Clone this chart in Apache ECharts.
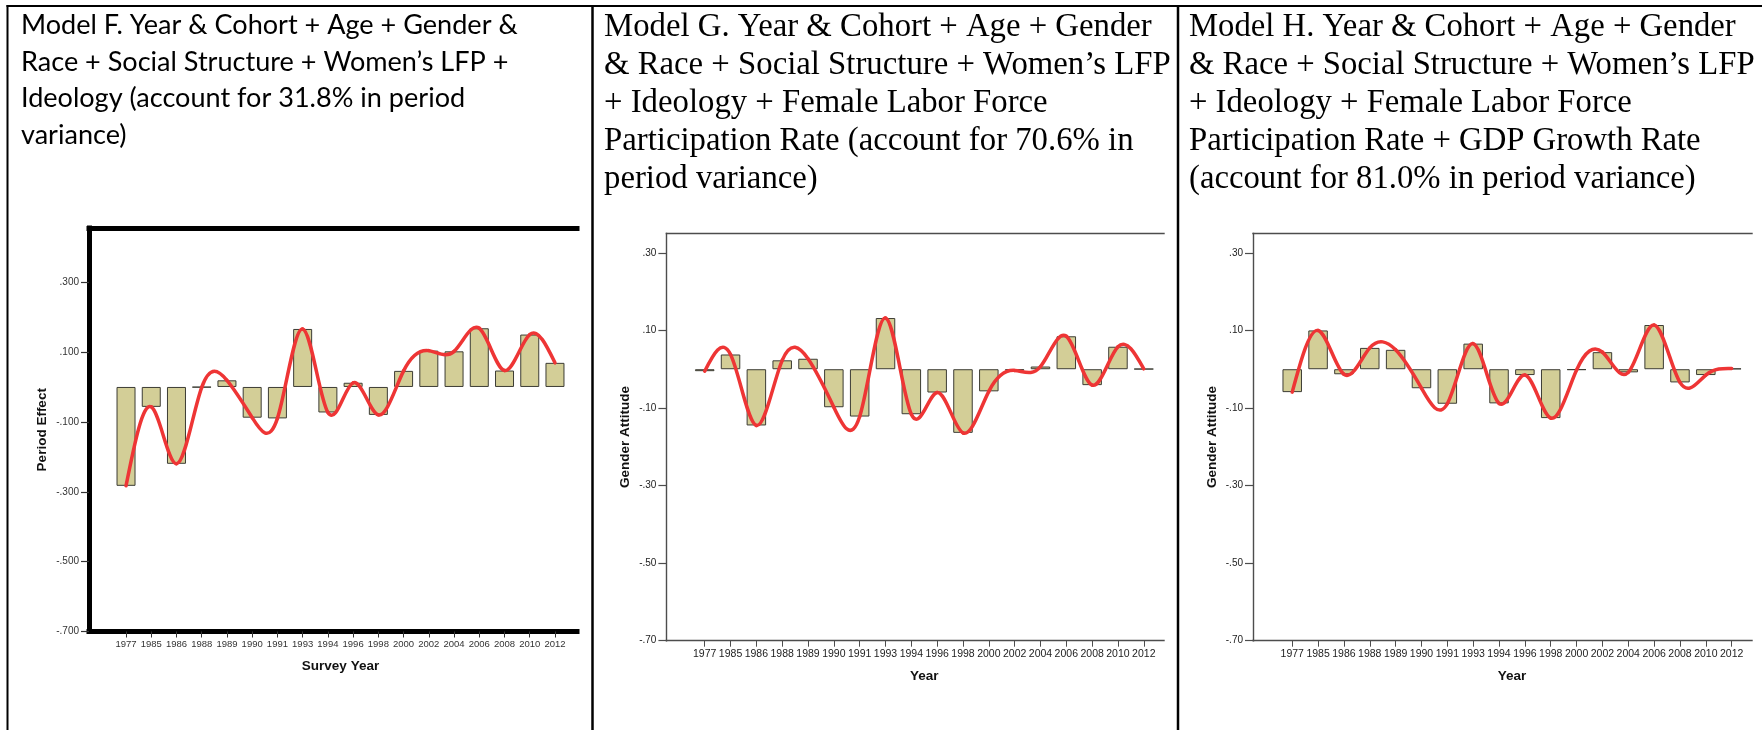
<!DOCTYPE html>
<html>
<head>
<meta charset="utf-8">
<title>Period effects, Models F–H</title>
<script src="https://cdn.jsdelivr.net/npm/echarts@6/dist/echarts.min.js"></script>
<style>
  html, body { margin: 0; padding: 0; background: #fff; }
  #chart { width: 1762px; height: 730px; }
</style>
</head>
<body>
<div id="chart"></div>
<script>
// ---- data ----
const years = ['1977', '1985', '1986', '1988', '1989', '1990', '1991', '1993', '1994',
               '1996', '1998', '2000', '2002', '2004', '2006', '2008', '2010', '2012'];

// Model F: period effect
const modelF = [-0.283, -0.057, -0.220, -0.001, 0.019, -0.088, -0.090, 0.166, -0.073,
                0.012, -0.080, 0.046, 0.104, 0.102, 0.168, 0.047, 0.150, 0.069];
// Model G: gender attitude period effect
const modelG = [-0.005, 0.038, -0.145, 0.023, 0.027, -0.098, -0.122, 0.132, -0.116,
                -0.060, -0.164, -0.057, -0.003, 0.007, 0.085, -0.041, 0.058, 0.001];
// Model H: gender attitude period effect
const modelH = [-0.059, 0.100, -0.013, 0.055, 0.050, -0.049, -0.089, 0.066, -0.088,
                -0.015, -0.126, -0.002, 0.044, -0.008, 0.114, -0.034, -0.015, 0.002];

const ticksF = [-0.7, -0.5, -0.3, -0.1, 0.1, 0.3];
const ticksGH = [-0.7, -0.5, -0.3, -0.1, 0.1, 0.3];

const titleF = [
  'Model F. Year & Cohort + Age + Gender &',
  'Race + Social Structure + Women\u2019s LFP +',
  'Ideology (account for 31.8% in period',
  'variance)'
];
const titleG = [
  'Model G. Year & Cohort + Age + Gender',
  '& Race + Social Structure + Women\u2019s LFP',
  '+ Ideology + Female Labor Force',
  'Participation Rate (account for 70.6% in',
  'period variance)'
];
const titleH = [
  'Model H. Year & Cohort + Age + Gender',
  '& Race + Social Structure + Women\u2019s LFP',
  '+ Ideology + Female Labor Force',
  'Participation Rate + GDP Growth Rate',
  '(account for 81.0% in period variance)'
];

// ---- layout ----
const W = 1762, H = 730;
const SANS = '"Liberation Sans", Arial, sans-serif';
const BAR_FILL = '#d3ce97';
const CURVE = '#ee3535';

const panels = [
  {
    title: titleF, titleFont: 'Lato, "Open Sans", sans-serif', titleX: 21, titleW: 497,
    lineY0: 25.5, lineStep: 36.6,
    values: modelF, ticks: ticksF, decimals: 3, yMax: 0.455,
    frame: { left: 89, right: 577, top: 228, bottom: 631.5 },
    plot: { left: 113.4, right: 567.6 },
    axisColor: '#000', axisWidth: 5, tickColor: '#333',
    yName: 'Period Effect', yNameGap: 40, xName: 'Survey Year', xNameGap: 27.5,
    tickFont: 9.5, yTickFont: 10, labelColor: '#333', barWidth: 19, xLabelMargin: 8
  },
  {
    title: titleG, titleFont: '"Liberation Serif", "Times New Roman", serif', titleX: 604, titleW: 548,
    lineY0: 27.8, lineStep: 37.8,
    values: modelG, ticks: ticksGH, decimals: 2, yMax: 0.350,
    frame: { left: 666.4, right: 1164, top: 233.5, bottom: 640.7 },
    plot: { left: 691.8, right: 1156.7 },
    axisColor: '#4d4d4d', axisWidth: 1.4, tickColor: '#4d4d4d',
    yName: 'Gender Attitude', yNameGap: 34, xName: 'Year', xNameGap: 29,
    tickFont: 10.5, yTickFont: 10, labelColor: '#222', barWidth: 19.5, xLabelMargin: 8
  },
  {
    title: titleH, titleFont: '"Liberation Serif", "Times New Roman", serif', titleX: 1189, titleW: 547,
    lineY0: 27.8, lineStep: 37.8,
    values: modelH, ticks: ticksGH, decimals: 2, yMax: 0.350,
    frame: { left: 1253, right: 1752, top: 233.5, bottom: 640.7 },
    plot: { left: 1279.3, right: 1744.6 },
    axisColor: '#4d4d4d', axisWidth: 1.4, tickColor: '#4d4d4d',
    yName: 'Gender Attitude', yNameGap: 34, xName: 'Year', xNameGap: 29,
    tickFont: 10.5, yTickFont: 10, labelColor: '#222', barWidth: 19.5, xLabelMargin: 8
  }
];

// size a title font so that its first line spans the given width
const measureCtx = document.createElement('canvas').getContext('2d');
function fitFontSize(text, family, width) {
  measureCtx.font = '100px ' + family;
  return 100 * width / measureCtx.measureText(text).width;
}

function tickFormatter(decimals) {
  return function (v) {
    const s = Math.abs(v).toFixed(decimals).replace(/^0/, '');
    return (v < 0 ? '-' : '') + s;
  };
}

// second derivatives of a natural cubic spline through evenly spaced values
function splineMoments(ys) {
  const n = ys.length;
  const M = new Array(n).fill(0);
  const m = n - 2;
  if (m < 1) return M;
  const cp = new Array(m), dp = new Array(m);
  for (let k = 0; k < m; k++) {
    const i = k + 1;
    const rhs = 6 * (ys[i + 1] - 2 * ys[i] + ys[i - 1]);
    const diag = 4 - (k > 0 ? cp[k - 1] : 0);
    cp[k] = 1 / diag;
    dp[k] = (rhs - (k > 0 ? dp[k - 1] : 0)) / diag;
  }
  for (let k = m - 1; k >= 0; k--) {
    M[k + 1] = dp[k] - cp[k] * M[k + 2];
  }
  return M;
}

// spline curve: each item draws the cubic piece to the next point
function splineRenderer(color, width) {
  return function (params, api) {
    const i = params.dataIndexInside;
    const n = params.dataInsideLength;
    if (i >= n - 1) return null;
    const ys = [];
    for (let j = 0; j < n; j++) ys.push(api.value(1, j));
    const M = splineMoments(ys);
    const y0 = ys[i], y1 = ys[i + 1];
    const s0 = (y1 - y0) - (2 * M[i] + M[i + 1]) / 6;
    const s1 = (y1 - y0) + (M[i] + 2 * M[i + 1]) / 6;
    const p0 = api.coord([i, y0]);
    const p1 = api.coord([i + 1, y1]);
    const ca = api.coord([i, y0 + s0 / 3]);
    const cb = api.coord([i + 1, y1 - s1 / 3]);
    const dx = p1[0] - p0[0];
    return {
      type: 'bezierCurve',
      shape: { x1: p0[0], y1: p0[1], x2: p1[0], y2: p1[1],
               cpx1: p0[0] + dx / 3, cpy1: ca[1], cpx2: p0[0] + 2 * dx / 3, cpy2: cb[1] },
      style: { stroke: color, lineWidth: width, fill: 'none', lineCap: 'round' }
    };
  };
}

const grid = [], xAxis = [], yAxis = [], series = [], graphic = [];

panels.forEach(function (p) {
  const f = p.frame;
  const gFrame = grid.length;
  grid.push({ left: f.left, right: W - f.right, top: f.top, bottom: H - f.bottom,
              containLabel: false, outerBoundsMode: 'none' });
  const gPlot = grid.length;
  grid.push({ left: p.plot.left, right: W - p.plot.right, top: f.top, bottom: H - f.bottom,
              containLabel: false, outerBoundsMode: 'none' });

  const frameLine = { show: true, onZero: false,
                      lineStyle: { color: p.axisColor, width: p.axisWidth, cap: 'square' } };

  // frame: bottom and top edges
  xAxis.push({ gridIndex: gFrame, type: 'value', position: 'bottom', min: 0, max: 1,
               axisLine: frameLine, axisTick: { show: false }, axisLabel: { show: false },
               splitLine: { show: false } });
  xAxis.push({ gridIndex: gFrame, type: 'value', position: 'top', min: 0, max: 1,
               axisLine: frameLine, axisTick: { show: false }, axisLabel: { show: false },
               splitLine: { show: false } });
  // category axis carrying the years
  const xData = xAxis.length;
  xAxis.push({
    gridIndex: gPlot, type: 'category', data: years, position: 'bottom', boundaryGap: true,
    axisLine: { show: false, onZero: false },
    axisTick: { show: true, alignWithLabel: true, length: 6,
                lineStyle: { color: p.tickColor, width: 1 } },
    axisLabel: { interval: 0, hideOverlap: false, margin: p.xLabelMargin, fontSize: p.tickFont,
                 fontFamily: SANS, color: p.labelColor },
    splitLine: { show: false },
    name: p.xName, nameLocation: 'middle', nameGap: p.xNameGap,
    nameTextStyle: { fontFamily: SANS, fontWeight: 'bold', fontSize: 13.5, color: '#111' }
  });

  // frame: left value axis with its ticks
  yAxis.push({
    gridIndex: gFrame, type: 'value', min: -0.7, max: p.yMax,
    axisLine: frameLine,
    axisTick: { show: true, customValues: p.ticks, length: 8,
                lineStyle: { color: p.tickColor, width: 1.2 } },
    axisLabel: { show: true, customValues: p.ticks, formatter: tickFormatter(p.decimals),
                 margin: 10, fontSize: p.yTickFont, fontFamily: SANS, color: p.labelColor },
    splitLine: { show: false },
    name: p.yName, nameLocation: 'middle', nameGap: p.yNameGap, nameRotate: 90,
    nameTextStyle: { fontFamily: SANS, fontWeight: 'bold', fontSize: 13.5, color: '#111' }
  });
  const yData = yAxis.length;
  yAxis.push({ gridIndex: gPlot, type: 'value', min: -0.7, max: p.yMax, show: false,
               splitLine: { show: false } });

  series.push({
    type: 'bar', xAxisIndex: xData, yAxisIndex: yData, data: p.values,
    barWidth: p.barWidth,
    itemStyle: { color: BAR_FILL, borderColor: '#3c3c34', borderWidth: 1 },
    z: 2
  });
  series.push({
    type: 'custom', xAxisIndex: xData, yAxisIndex: yData,
    data: p.values.map(function (v, i) { return [i, v]; }),
    encode: { x: 0, y: 1 },
    renderItem: splineRenderer(CURVE, 3.5),
    clip: false,
    z: 3
  });

  // title block
  const size = fitFontSize(p.title[0], p.titleFont, p.titleW);
  p.title.forEach(function (line, k) {
    graphic.push({
      type: 'text', x: p.titleX, y: p.lineY0 + k * p.lineStep,
      style: { text: line, fontSize: size, fontFamily: p.titleFont, fill: '#000',
               align: 'left', verticalAlign: 'middle' },
      z: 10
    });
  });
});

// table rules around the three cells
const rule = { stroke: '#000', lineWidth: 2 };
graphic.push({ type: 'line', shape: { x1: 6.5, y1: 6, x2: W, y2: 6 }, style: rule, z: 10 });
graphic.push({ type: 'line', shape: { x1: 7.5, y1: 5, x2: 7.5, y2: H }, style: rule, z: 10 });
graphic.push({ type: 'line', shape: { x1: 592.5, y1: 5, x2: 592.5, y2: H },
               style: { stroke: '#000', lineWidth: 2.5 }, z: 10 });
graphic.push({ type: 'line', shape: { x1: 1178, y1: 5, x2: 1178, y2: H },
               style: { stroke: '#000', lineWidth: 2.5 }, z: 10 });

const chart = echarts.init(document.getElementById('chart'), null, { width: W, height: H });
chart.setOption({
  backgroundColor: '#fff',
  animation: false,
  grid: grid,
  xAxis: xAxis,
  yAxis: yAxis,
  series: series,
  graphic: graphic
});
</script>
</body>
</html>
